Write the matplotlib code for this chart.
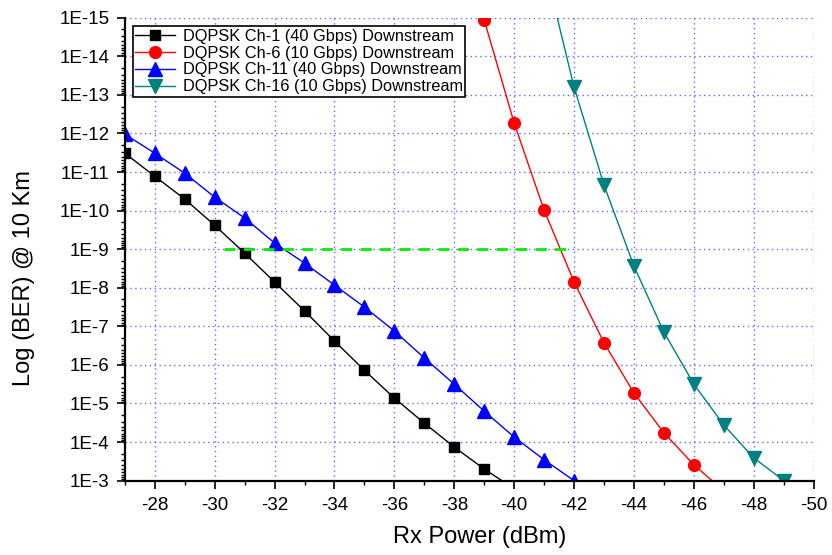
import numpy as np
import matplotlib
matplotlib.use("Agg")
import matplotlib.pyplot as plt
from matplotlib.ticker import FixedLocator, LogLocator, NullFormatter

plt.rcParams['font.family'] = ['Liberation Sans', 'DejaVu Sans']

# Rx power (dBm) and log10(BER) exponents (BER = 10**-e)
ch1_x = [-27, -28, -29, -30, -31, -32, -33, -34, -35, -36, -37, -38, -39, -40]
ch1_e = [11.49, 10.89, 10.30, 9.62, 8.90, 8.15, 7.40, 6.62, 5.86, 5.14, 4.49, 3.87, 3.30, 2.79]

ch6_x = [-39, -40, -41, -42, -43, -44, -45, -46, -47]
ch6_e = [14.94, 12.27, 10.01, 8.15, 6.57, 5.27, 4.24, 3.41, 2.73]

ch11_x = [-27, -28, -29, -30, -31, -32, -33, -34, -35, -36, -37, -38, -39, -40, -41, -42]
ch11_e = [11.98, 11.49, 10.97, 10.35, 9.81, 9.16, 8.64, 8.07, 7.50, 6.88, 6.18, 5.50, 4.80, 4.13, 3.54, 3.0]

ch16_x = [-41, -42, -43, -44, -45, -46, -47, -48, -49]
ch16_e = [16.4, 13.20, 10.66, 8.56, 6.85, 5.50, 4.44, 3.59, 3.0]

fec_x = [-30.3, -42]
fec_ber = 1e-9

series = [
    (ch1_x, ch1_e, "DQPSK Ch-1 (40 Gbps) Downstream", "black", "s", 7),
    (ch6_x, ch6_e, "DQPSK Ch-6 (10 Gbps) Downstream", "red", "o", 8.5),
    (ch11_x, ch11_e, "DQPSK Ch-11 (40 Gbps) Downstream", "blue", "^", 10),
    (ch16_x, ch16_e, "DQPSK Ch-16 (10 Gbps) Downstream", "#008080", "v", 10),
]

fig = plt.figure(figsize=(8.32, 5.55), dpi=100)
ax = fig.add_axes([0.150, 0.134, 0.828, 0.834])

for x, e, lab, c, mk, ms in series:
    ber = 10.0 ** (-np.array(e))
    ax.plot(x, ber, "-", color=c, lw=1.0, marker=mk, ms=ms, mfc=c, mec=c, label=lab)

ax.plot(fec_x, [fec_ber, fec_ber], "--", color="#00ee00", lw=2.0, dashes=(4, 3))

ax.set_yscale("log")
ax.set_xlim(-27, -50)
ax.set_ylim(1e-3, 1e-15)
ax.xaxis.set_major_locator(FixedLocator(np.arange(-28, -51, -2)))
ax.xaxis.set_minor_locator(FixedLocator(np.arange(-27, -50, -2)))
ax.yaxis.set_major_locator(FixedLocator([10.0 ** -k for k in range(3, 16)]))
ax.yaxis.set_minor_locator(LogLocator(base=10, subs=np.arange(2, 10), numticks=50))
ax.yaxis.set_minor_formatter(NullFormatter())
ax.set_yticklabels([f"1E-{k}" for k in range(3, 16)])
ax.set_xticklabels([str(v) for v in range(-28, -51, -2)])

ax.grid(True, which="major", color="#5555ff", ls=(0, (1, 2.5)), lw=1.0, alpha=0.9)
ax.tick_params(which="major", direction="out", length=6, width=1.2, labelsize=13.5)
ax.tick_params(axis="x", which="major", pad=6)
ax.tick_params(axis="y", which="major", pad=5)
ax.tick_params(which="minor", direction="out", length=3, width=1.0)
for s in ("top", "right"):
    ax.spines[s].set_visible(False)
for s in ("left", "bottom"):
    ax.spines[s].set_linewidth(1.6)

ax.set_xlabel("Rx Power (dBm)", fontsize=17)
ax.set_ylabel("Log (BER) @ 10 Km", fontsize=17)
ax.xaxis.set_label_coords(0.515, -0.098)
ax.yaxis.set_label_coords(-0.131, 0.438)

leg = ax.legend(loc="upper left", bbox_to_anchor=(0.0116, 0.982), borderaxespad=0,
                fontsize=11.8, fancybox=False, framealpha=1, edgecolor="black",
                handlelength=2.4, labelspacing=0.12, borderpad=0.15, handletextpad=0.5)
leg.get_frame().set_linewidth(1.2)

fig.savefig("out.png", dpi=100)
